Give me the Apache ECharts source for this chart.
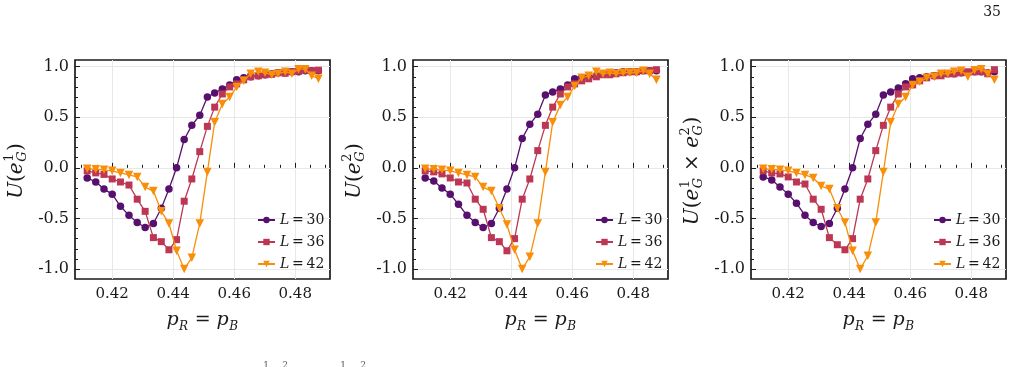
<!DOCTYPE html>
<html><head><meta charset="utf-8">
<script src="https://cdn.jsdelivr.net/npm/echarts@6/dist/echarts.min.js"></script>
<style>html,body{margin:0;padding:0;background:#fff}#c{width:1020px;height:367px}</style>
</head><body><div id="c"></div>
<script>
// ---------- data ----------
const P = [0.4118,0.4146,0.4173,0.4200,0.4227,0.4255,0.4282,0.4308,0.4335,0.4361,0.4386,0.4411,0.4436,0.4461,0.4487,0.4512,0.4536,0.4561,0.4585,0.4608,0.4631,0.4654,0.4679,0.4701,0.4723,0.4744,0.4767,0.4789,0.4811,0.4833,0.4854,0.4876];

const U1_L30 = [-0.10,-0.14,-0.21,-0.26,-0.38,-0.47,-0.54,-0.59,-0.55,-0.40,-0.21,0.00,0.28,0.42,0.52,0.70,0.74,0.78,0.82,0.87,0.89,0.90,0.91,0.92,0.93,0.94,0.94,0.95,0.95,0.96,0.96,0.96];
const U1_L36 = [-0.03,-0.05,-0.065,-0.11,-0.14,-0.17,-0.31,-0.43,-0.69,-0.73,-0.81,-0.71,-0.33,-0.11,0.16,0.41,0.60,0.73,0.80,0.83,0.87,0.90,0.91,0.92,0.925,0.94,0.935,0.95,0.955,0.965,0.96,0.965];
const U1_L42 = [-0.01,-0.015,-0.02,-0.03,-0.05,-0.07,-0.09,-0.19,-0.23,-0.43,-0.55,-0.82,-1.00,-0.89,-0.55,-0.04,0.45,0.63,0.70,0.80,0.86,0.93,0.95,0.94,0.92,0.93,0.95,0.93,0.975,0.975,0.91,0.88];

const U2_L30 = [-0.10,-0.13,-0.20,-0.26,-0.36,-0.47,-0.54,-0.59,-0.55,-0.40,-0.21,0.00,0.29,0.43,0.53,0.72,0.75,0.78,0.82,0.88,0.89,0.90,0.91,0.93,0.93,0.94,0.95,0.95,0.95,0.96,0.96,0.96];
const U2_L36 = [-0.03,-0.04,-0.06,-0.10,-0.14,-0.15,-0.31,-0.41,-0.69,-0.73,-0.82,-0.70,-0.31,-0.11,0.17,0.42,0.60,0.73,0.80,0.83,0.86,0.88,0.90,0.92,0.92,0.93,0.94,0.95,0.95,0.96,0.96,0.97];
const U2_L42 = [-0.01,-0.015,-0.02,-0.03,-0.05,-0.07,-0.09,-0.19,-0.23,-0.40,-0.56,-0.81,-1.00,-0.88,-0.55,-0.04,0.45,0.62,0.70,0.81,0.89,0.91,0.95,0.93,0.94,0.93,0.94,0.94,0.94,0.96,0.93,0.87];

const U3_L30 = [-0.09,-0.12,-0.19,-0.26,-0.35,-0.47,-0.54,-0.58,-0.55,-0.40,-0.21,0.00,0.29,0.43,0.53,0.72,0.75,0.79,0.83,0.88,0.89,0.90,0.91,0.92,0.93,0.93,0.94,0.94,0.95,0.95,0.94,0.95];
const U3_L36 = [-0.03,-0.05,-0.06,-0.09,-0.14,-0.16,-0.31,-0.41,-0.69,-0.76,-0.81,-0.70,-0.31,-0.11,0.17,0.42,0.60,0.73,0.80,0.82,0.86,0.89,0.91,0.91,0.93,0.93,0.94,0.95,0.95,0.95,0.93,0.97];
const U3_L42 = [-0.01,-0.015,-0.02,-0.03,-0.05,-0.07,-0.10,-0.18,-0.21,-0.40,-0.54,-0.82,-1.00,-0.87,-0.54,-0.04,0.45,0.63,0.70,0.82,0.85,0.89,0.90,0.93,0.93,0.95,0.96,0.90,0.965,0.975,0.93,0.87];

const SERIES_NAMES = ['L = 30', 'L = 36', 'L = 42'];
const X_TICKS = [0.42, 0.44, 0.46, 0.48];
const X_MINOR = [0.41, 0.415, 0.425, 0.43, 0.435, 0.445, 0.45, 0.455, 0.465, 0.47, 0.475, 0.485, 0.49];
const Y_TICKS = [-1.0, -0.5, 0.0, 0.5, 1.0];
const Y_MINOR = [-0.9, -0.8, -0.7, -0.6, -0.4, -0.3, -0.2, -0.1, 0.1, 0.2, 0.3, 0.4, 0.6, 0.7, 0.8, 0.9];

// ---------- style ----------
const COLORS = ['#57106e', '#bc3754', '#f98e09'];
const SYMBOLS = ['circle', 'rect', 'triangle'];
const SYM_SIZE = [7.5, 7, 8.5];
const SYM_ROT = [0, 0, 180];
const FONT = 'DejaVu Serif';
const XMIN = 0.4078, XMAX = 0.4914, YMIN = -1.099, YMAX = 1.066;
const GRID_TOP = 60, GRID_H = 219, GRID_W = 255;

const panels = [
  { left: 75,  data: [U1_L30, U1_L36, U1_L42],
    ylabel: [{t:'U',it:1},{t:'('},{t:'e',it:1,sub:'G',sup:'1'},{t:')'}] },
  { left: 413, data: [U2_L30, U2_L36, U2_L42],
    ylabel: [{t:'U',it:1},{t:'('},{t:'e',it:1,sub:'G',sup:'2'},{t:')'}] },
  { left: 751, data: [U3_L30, U3_L36, U3_L42],
    ylabel: [{t:'U',it:1},{t:'('},{t:'e',it:1,sub:'G',sup:'1'},{t:' × '},{t:'e',it:1,sub:'G',sup:'2'},{t:')'}] }
];
const XLABEL = [{t:'p',it:1,sub:'R'},{t:' = '},{t:'p',it:1,sub:'B'}];

const mctx = document.createElement('canvas').getContext('2d');
function tw(text, size, it) { mctx.font = (it ? 'italic ' : '') + size + 'px "' + FONT + '"'; return mctx.measureText(text).width; }
function fnt(size, it) { return (it ? 'italic ' : '') + size + 'px "' + FONT + '"'; }

function buildLabel(tokens, size) {
  const small = Math.round(size * 0.65);
  const kids = []; let x = 0;
  tokens.forEach(tk => {
    kids.push({ type: 'text', x: x, y: 0, style: { text: tk.t, font: fnt(size, tk.it), fill: '#1a1a1a', verticalAlign: 'middle', align: 'left' } });
    x += tw(tk.t, size, tk.it);
    if (tk.sub || tk.sup) {
      let adv = 0;
      if (tk.sup) { kids.push({ type: 'text', x: x + 0.5, y: -7, style: { text: tk.sup, font: fnt(small, 0), fill: '#1a1a1a', verticalAlign: 'middle', align: 'left' } }); adv = Math.max(adv, tw(tk.sup, small, 0)); }
      if (tk.sub) { kids.push({ type: 'text', x: x + 0.5, y: 6.5, style: { text: tk.sub, font: fnt(small, 1), fill: '#1a1a1a', verticalAlign: 'middle', align: 'left' } }); adv = Math.max(adv, tw(tk.sub, small, 1)); }
      x += adv + 1;
    }
  });
  kids.forEach(k => { k.x -= x / 2; });
  return kids;
}

const grid = [], xAxis = [], yAxis = [], series = [], legend = [], graphic = [];
panels.forEach((p, i) => {
  grid.push({ left: p.left, top: GRID_TOP, width: GRID_W, height: GRID_H, show: true, borderColor: '#1a1a1a', borderWidth: 1.7, backgroundColor: 'transparent', containLabel: false });
  xAxis.push({ type: 'value', gridIndex: i, min: XMIN, max: XMAX, position: 'bottom',
    axisLine: { show: false },
    axisTick: { show: true, inside: true, length: 5, customValues: X_TICKS, lineStyle: { color: '#1a1a1a', width: 1 } },
    axisLabel: { customValues: X_TICKS, formatter: v => v.toFixed(2), fontFamily: FONT, fontSize: 15, color: '#1a1a1a', margin: 8 },
    splitLine: { show: true, lineStyle: { color: '#e8e8e8', width: 1 } } });
  xAxis.push({ type: 'value', gridIndex: i, min: XMIN, max: XMAX, position: 'bottom',
    axisLine: { show: false },
    axisTick: { show: true, inside: true, length: 3, customValues: X_MINOR, lineStyle: { color: '#1a1a1a', width: 1 } },
    axisLabel: { show: false }, splitLine: { show: false } });
  yAxis.push({ type: 'value', gridIndex: i, min: YMIN, max: YMAX, position: 'left',
    axisLine: { show: false },
    axisTick: { show: true, inside: true, length: 5, customValues: Y_TICKS, lineStyle: { color: '#1a1a1a', width: 1 } },
    axisLabel: { customValues: Y_TICKS, formatter: v => v.toFixed(1), fontFamily: FONT, fontSize: 16, color: '#1a1a1a', margin: 6 },
    splitLine: { show: true, lineStyle: { color: '#e8e8e8', width: 1 } } });
  yAxis.push({ type: 'value', gridIndex: i, min: YMIN, max: YMAX, position: 'left',
    axisLine: { show: false },
    axisTick: { show: true, inside: true, length: 3, customValues: Y_MINOR, lineStyle: { color: '#1a1a1a', width: 1 } },
    axisLabel: { show: false }, splitLine: { show: false } });
  p.data.forEach((vals, s) => {
    series.push({ type: 'line', name: SERIES_NAMES[s], xAxisIndex: 2 * i, yAxisIndex: 2 * i,
      data: P.map((x, k) => [x, vals[k]]),
      symbol: SYMBOLS[s], symbolSize: SYM_SIZE[s], symbolRotate: SYM_ROT[s], showAllSymbol: true,
      lineStyle: { color: COLORS[s], width: 1.3 }, itemStyle: { color: COLORS[s] },
      emphasis: { disabled: true }, z: 3 + s });
  });
  legend.push({ orient: 'vertical', left: p.left + 177, top: 208, itemWidth: 17, itemHeight: 8, itemGap: 8,
    data: SERIES_NAMES, selectedMode: false,
    formatter: n => '{i|L}\u2009=\u2009' + n.split('= ')[1],
    textStyle: { fontFamily: FONT, fontSize: 14, color: '#1a1a1a', lineHeight: 14,
      rich: { i: { fontFamily: FONT, fontStyle: 'italic', fontSize: 14, color: '#1a1a1a' } } } });
  graphic.push({ type: 'group', x: p.left - 58.5, y: GRID_TOP + GRID_H / 2 + 1.5, rotation: Math.PI / 2,
    children: buildLabel(p.ylabel, 20) });
  graphic.push({ type: 'group', x: p.left + GRID_W / 2, y: 320, children: buildLabel(XLABEL, 19) });
});
graphic.push({ type: 'text', x: 1001, y: 12, style: { text: '35', font: '14px "' + FONT + '"', fill: '#1a1a1a', align: 'right', verticalAlign: 'middle' } });
[[266,'1'],[285,'2'],[343,'1'],[363,'2']].forEach(a => {
  graphic.push({ type: 'text', x: a[0], y: 366, style: { text: a[1], font: '9px "' + FONT + '"', fill: '#555', align: 'center', verticalAlign: 'middle' } });
});

const chart = echarts.init(document.getElementById('c'), null, { renderer: 'canvas' });
chart.setOption({ animation: false, backgroundColor: '#fff', grid, xAxis, yAxis, series, legend, graphic });
</script></body></html>
